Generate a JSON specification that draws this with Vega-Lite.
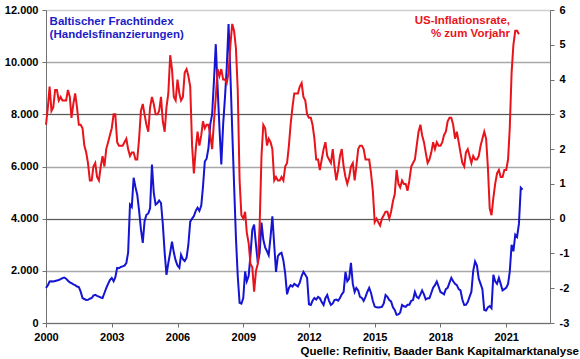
{
"$schema": "https://vega.github.io/schema/vega-lite/v6.json",
"width": 504, "height": 313,
"autosize": "none",
"padding": {"left": 46, "top": 10, "right": 30, "bottom": 36},
"config": {"view": {"stroke": null}, "font": "Liberation Sans",
  "axis": {"labelFont": "Liberation Sans", "labelFontSize": 11, "labelFontWeight": "bold", "labelColor": "#000000", "domainColor": "#707070", "tickColor": "#707070", "tickSize": 4, "labelPadding": 4, "title": null, "labelOverlap": false, "labelBound": false, "labelFlush": false}},
"title": {"text": "Quelle: Refinitiv, Baader Bank Kapitalmarktanalyse", "orient": "bottom", "anchor": "end", "frame": "group", "dx": 29, "offset": 4, "fontSize": 11.5, "fontWeight": "bold", "font": "Liberation Sans", "color": "#000000"},
"datasets": {
"bdi": [
{"d":"2000-01","v":1340},{"d":"2000-02","v":1450},{"d":"2000-03","v":1590},{"d":"2000-04","v":1600},{"d":"2000-05","v":1590},{"d":"2000-06","v":1610},{"d":"2000-07","v":1630},{"d":"2000-08","v":1650},{"d":"2000-09","v":1680},{"d":"2000-10","v":1720},{"d":"2000-11","v":1745},{"d":"2000-12","v":1700},
{"d":"2001-01","v":1620},{"d":"2001-02","v":1560},{"d":"2001-03","v":1525},{"d":"2001-04","v":1480},{"d":"2001-05","v":1450},{"d":"2001-06","v":1400},{"d":"2001-07","v":1380},{"d":"2001-08","v":1200},{"d":"2001-09","v":960},{"d":"2001-10","v":920},{"d":"2001-11","v":885},{"d":"2001-12","v":890},
{"d":"2002-01","v":930},{"d":"2002-02","v":960},{"d":"2002-03","v":1050},{"d":"2002-04","v":1080},{"d":"2002-05","v":1040},{"d":"2002-06","v":1010},{"d":"2002-07","v":980},{"d":"2002-08","v":960},{"d":"2002-09","v":1150},{"d":"2002-10","v":1335},{"d":"2002-11","v":1500},{"d":"2002-12","v":1650},
{"d":"2003-01","v":1730},{"d":"2003-02","v":1600},{"d":"2003-03","v":1750},{"d":"2003-04","v":2115},{"d":"2003-05","v":2100},{"d":"2003-06","v":2150},{"d":"2003-07","v":2170},{"d":"2003-08","v":2200},{"d":"2003-09","v":2300},{"d":"2003-10","v":2700},{"d":"2003-11","v":4540},{"d":"2003-12","v":4450},
{"d":"2004-01","v":5570},{"d":"2004-02","v":5200},{"d":"2004-03","v":4920},{"d":"2004-04","v":4300},{"d":"2004-05","v":3600},{"d":"2004-06","v":3075},{"d":"2004-07","v":3900},{"d":"2004-08","v":4150},{"d":"2004-09","v":4200},{"d":"2004-10","v":4400},{"d":"2004-11","v":6075},{"d":"2004-12","v":5000},
{"d":"2005-01","v":4540},{"d":"2005-02","v":4600},{"d":"2005-03","v":4700},{"d":"2005-04","v":4600},{"d":"2005-05","v":3800},{"d":"2005-06","v":2700},{"d":"2005-07","v":1845},{"d":"2005-08","v":2300},{"d":"2005-09","v":2700},{"d":"2005-10","v":3115},{"d":"2005-11","v":2700},{"d":"2005-12","v":2400},
{"d":"2006-01","v":2200},{"d":"2006-02","v":2115},{"d":"2006-03","v":2615},{"d":"2006-04","v":2450},{"d":"2006-05","v":2375},{"d":"2006-06","v":2500},{"d":"2006-07","v":3000},{"d":"2006-08","v":3885},{"d":"2006-09","v":4000},{"d":"2006-10","v":4100},{"d":"2006-11","v":4300},{"d":"2006-12","v":4420},
{"d":"2007-01","v":4300},{"d":"2007-02","v":4500},{"d":"2007-03","v":5200},{"d":"2007-04","v":6190},{"d":"2007-05","v":6300},{"d":"2007-06","v":6700},{"d":"2007-07","v":7615},{"d":"2007-08","v":8000},{"d":"2007-09","v":9300},{"d":"2007-10","v":10690},{"d":"2007-11","v":9000},{"d":"2007-12","v":7500},
{"d":"2008-01","v":6075},{"d":"2008-02","v":7615},{"d":"2008-03","v":8600},{"d":"2008-04","v":9800},{"d":"2008-05","v":11460},{"d":"2008-06","v":9500},{"d":"2008-07","v":7400},{"d":"2008-08","v":5300},{"d":"2008-09","v":3270},{"d":"2008-10","v":1800},{"d":"2008-11","v":770},{"d":"2008-12","v":740},
{"d":"2009-01","v":960},{"d":"2009-02","v":1975},{"d":"2009-03","v":1600},{"d":"2009-04","v":1800},{"d":"2009-05","v":2600},{"d":"2009-06","v":3575},{"d":"2009-07","v":3770},{"d":"2009-08","v":3000},{"d":"2009-09","v":2300},{"d":"2009-10","v":2700},{"d":"2009-11","v":3850},{"d":"2009-12","v":3200},
{"d":"2010-01","v":2900},{"d":"2010-02","v":2750},{"d":"2010-03","v":2600},{"d":"2010-04","v":3300},{"d":"2010-05","v":4090},{"d":"2010-06","v":3000},{"d":"2010-07","v":1960},{"d":"2010-08","v":2560},{"d":"2010-09","v":2650},{"d":"2010-10","v":2690},{"d":"2010-11","v":2400},{"d":"2010-12","v":1900},
{"d":"2011-01","v":1100},{"d":"2011-02","v":1345},{"d":"2011-03","v":1450},{"d":"2011-04","v":1400},{"d":"2011-05","v":1500},{"d":"2011-06","v":1450},{"d":"2011-07","v":1400},{"d":"2011-08","v":1550},{"d":"2011-09","v":1800},{"d":"2011-10","v":1960},{"d":"2011-11","v":1850},{"d":"2011-12","v":1730},
{"d":"2012-01","v":720},{"d":"2012-02","v":690},{"d":"2012-03","v":850},{"d":"2012-04","v":960},{"d":"2012-05","v":900},{"d":"2012-06","v":1000},{"d":"2012-07","v":950},{"d":"2012-08","v":800},{"d":"2012-09","v":690},{"d":"2012-10","v":950},{"d":"2012-11","v":1075},{"d":"2012-12","v":850},
{"d":"2013-01","v":690},{"d":"2013-02","v":750},{"d":"2013-03","v":880},{"d":"2013-04","v":900},{"d":"2013-05","v":860},{"d":"2013-06","v":960},{"d":"2013-07","v":1100},{"d":"2013-08","v":1190},{"d":"2013-09","v":1960},{"d":"2013-10","v":1600},{"d":"2013-11","v":1700},{"d":"2013-12","v":2305},
{"d":"2014-01","v":1500},{"d":"2014-02","v":1190},{"d":"2014-03","v":1345},{"d":"2014-04","v":1250},{"d":"2014-05","v":1000},{"d":"2014-06","v":960},{"d":"2014-07","v":850},{"d":"2014-08","v":1000},{"d":"2014-09","v":1200},{"d":"2014-10","v":1345},{"d":"2014-11","v":1150},{"d":"2014-12","v":850},
{"d":"2015-01","v":630},{"d":"2015-02","v":600},{"d":"2015-03","v":590},{"d":"2015-04","v":600},{"d":"2015-05","v":620},{"d":"2015-06","v":750},{"d":"2015-07","v":1075},{"d":"2015-08","v":1000},{"d":"2015-09","v":880},{"d":"2015-10","v":830},{"d":"2015-11","v":600},{"d":"2015-12","v":500},
{"d":"2016-01","v":310},{"d":"2016-02","v":330},{"d":"2016-03","v":400},{"d":"2016-04","v":690},{"d":"2016-05","v":640},{"d":"2016-06","v":620},{"d":"2016-07","v":700},{"d":"2016-08","v":700},{"d":"2016-09","v":850},{"d":"2016-10","v":880},{"d":"2016-11","v":1190},{"d":"2016-12","v":1000},
{"d":"2017-01","v":950},{"d":"2017-02","v":1100},{"d":"2017-03","v":1250},{"d":"2017-04","v":1100},{"d":"2017-05","v":900},{"d":"2017-06","v":950},{"d":"2017-07","v":950},{"d":"2017-08","v":1150},{"d":"2017-09","v":1350},{"d":"2017-10","v":1450},{"d":"2017-11","v":1590},{"d":"2017-12","v":1400},
{"d":"2018-01","v":1190},{"d":"2018-02","v":1150},{"d":"2018-03","v":1100},{"d":"2018-04","v":1300},{"d":"2018-05","v":1350},{"d":"2018-06","v":1550},{"d":"2018-07","v":1730},{"d":"2018-08","v":1600},{"d":"2018-09","v":1500},{"d":"2018-10","v":1450},{"d":"2018-11","v":1300},{"d":"2018-12","v":1250},
{"d":"2019-01","v":900},{"d":"2019-02","v":690},{"d":"2019-03","v":700},{"d":"2019-04","v":800},{"d":"2019-05","v":1000},{"d":"2019-06","v":1200},{"d":"2019-07","v":2000},{"d":"2019-08","v":2360},{"d":"2019-09","v":2200},{"d":"2019-10","v":1700},{"d":"2019-11","v":1500},{"d":"2019-12","v":1300},
{"d":"2020-01","v":500},{"d":"2020-02","v":480},{"d":"2020-03","v":600},{"d":"2020-04","v":650},{"d":"2020-05","v":570},{"d":"2020-06","v":1850},{"d":"2020-07","v":1600},{"d":"2020-08","v":1500},{"d":"2020-09","v":1730},{"d":"2020-10","v":1500},{"d":"2020-11","v":1250},{"d":"2020-12","v":1300},
{"d":"2021-01","v":1350},{"d":"2021-02","v":1500},{"d":"2021-03","v":1960},{"d":"2021-04","v":3000},{"d":"2021-05","v":2750},{"d":"2021-06","v":3385},{"d":"2021-07","v":3300},{"d":"2021-08","v":3800},{"d":"2021-09","v":5190},{"d":"2021-10","v":5115}
],
"cpi": [
{"d":"2000-01","v":2.7},{"d":"2000-02","v":3.2},{"d":"2000-03","v":3.8},{"d":"2000-04","v":3.1},{"d":"2000-05","v":3.2},{"d":"2000-06","v":3.7},{"d":"2000-07","v":3.7},{"d":"2000-08","v":3.4},{"d":"2000-09","v":3.5},{"d":"2000-10","v":3.4},{"d":"2000-11","v":3.4},{"d":"2000-12","v":3.4},
{"d":"2001-01","v":3.7},{"d":"2001-02","v":3.5},{"d":"2001-03","v":2.9},{"d":"2001-04","v":3.3},{"d":"2001-05","v":3.6},{"d":"2001-06","v":3.2},{"d":"2001-07","v":2.7},{"d":"2001-08","v":2.7},{"d":"2001-09","v":2.6},{"d":"2001-10","v":2.1},{"d":"2001-11","v":1.9},{"d":"2001-12","v":1.6},
{"d":"2002-01","v":1.1},{"d":"2002-02","v":1.1},{"d":"2002-03","v":1.5},{"d":"2002-04","v":1.6},{"d":"2002-05","v":1.2},{"d":"2002-06","v":1.1},{"d":"2002-07","v":1.5},{"d":"2002-08","v":1.8},{"d":"2002-09","v":1.5},{"d":"2002-10","v":2.0},{"d":"2002-11","v":2.2},{"d":"2002-12","v":2.4},
{"d":"2003-01","v":2.6},{"d":"2003-02","v":3.0},{"d":"2003-03","v":3.0},{"d":"2003-04","v":2.2},{"d":"2003-05","v":2.1},{"d":"2003-06","v":2.1},{"d":"2003-07","v":2.1},{"d":"2003-08","v":2.2},{"d":"2003-09","v":2.3},{"d":"2003-10","v":2.0},{"d":"2003-11","v":1.8},{"d":"2003-12","v":1.9},
{"d":"2004-01","v":1.9},{"d":"2004-02","v":1.7},{"d":"2004-03","v":1.7},{"d":"2004-04","v":2.3},{"d":"2004-05","v":3.1},{"d":"2004-06","v":3.3},{"d":"2004-07","v":3.0},{"d":"2004-08","v":2.7},{"d":"2004-09","v":2.5},{"d":"2004-10","v":3.2},{"d":"2004-11","v":3.5},{"d":"2004-12","v":3.3},
{"d":"2005-01","v":3.0},{"d":"2005-02","v":3.0},{"d":"2005-03","v":3.1},{"d":"2005-04","v":3.5},{"d":"2005-05","v":2.8},{"d":"2005-06","v":2.5},{"d":"2005-07","v":3.2},{"d":"2005-08","v":3.6},{"d":"2005-09","v":4.7},{"d":"2005-10","v":4.3},{"d":"2005-11","v":3.5},{"d":"2005-12","v":3.4},
{"d":"2006-01","v":4.0},{"d":"2006-02","v":3.6},{"d":"2006-03","v":3.4},{"d":"2006-04","v":3.5},{"d":"2006-05","v":4.2},{"d":"2006-06","v":4.3},{"d":"2006-07","v":4.1},{"d":"2006-08","v":3.8},{"d":"2006-09","v":2.1},{"d":"2006-10","v":1.3},{"d":"2006-11","v":2.0},{"d":"2006-12","v":2.5},
{"d":"2007-01","v":2.1},{"d":"2007-02","v":2.4},{"d":"2007-03","v":2.8},{"d":"2007-04","v":2.6},{"d":"2007-05","v":2.7},{"d":"2007-06","v":2.7},{"d":"2007-07","v":2.4},{"d":"2007-08","v":2.0},{"d":"2007-09","v":2.8},{"d":"2007-10","v":3.5},{"d":"2007-11","v":4.3},{"d":"2007-12","v":4.1},
{"d":"2008-01","v":4.3},{"d":"2008-02","v":4.0},{"d":"2008-03","v":4.0},{"d":"2008-04","v":3.9},{"d":"2008-05","v":4.2},{"d":"2008-06","v":5.0},{"d":"2008-07","v":5.6},{"d":"2008-08","v":5.4},{"d":"2008-09","v":4.9},{"d":"2008-10","v":3.7},{"d":"2008-11","v":1.1},{"d":"2008-12","v":0.1},
{"d":"2009-01","v":0.0},{"d":"2009-02","v":0.2},{"d":"2009-03","v":-0.4},{"d":"2009-04","v":-0.7},{"d":"2009-05","v":-1.3},{"d":"2009-06","v":-1.4},{"d":"2009-07","v":-2.1},{"d":"2009-08","v":-1.5},{"d":"2009-09","v":-1.3},{"d":"2009-10","v":-0.2},{"d":"2009-11","v":1.8},{"d":"2009-12","v":2.7},
{"d":"2010-01","v":2.6},{"d":"2010-02","v":2.1},{"d":"2010-03","v":2.3},{"d":"2010-04","v":2.2},{"d":"2010-05","v":2.0},{"d":"2010-06","v":1.1},{"d":"2010-07","v":1.2},{"d":"2010-08","v":1.1},{"d":"2010-09","v":1.1},{"d":"2010-10","v":1.2},{"d":"2010-11","v":1.1},{"d":"2010-12","v":1.5},
{"d":"2011-01","v":1.6},{"d":"2011-02","v":2.1},{"d":"2011-03","v":2.7},{"d":"2011-04","v":3.2},{"d":"2011-05","v":3.6},{"d":"2011-06","v":3.6},{"d":"2011-07","v":3.6},{"d":"2011-08","v":3.8},{"d":"2011-09","v":3.9},{"d":"2011-10","v":3.5},{"d":"2011-11","v":3.4},{"d":"2011-12","v":3.0},
{"d":"2012-01","v":2.9},{"d":"2012-02","v":2.9},{"d":"2012-03","v":2.7},{"d":"2012-04","v":2.3},{"d":"2012-05","v":1.7},{"d":"2012-06","v":1.7},{"d":"2012-07","v":1.4},{"d":"2012-08","v":1.7},{"d":"2012-09","v":2.0},{"d":"2012-10","v":2.2},{"d":"2012-11","v":1.8},{"d":"2012-12","v":1.7},
{"d":"2013-01","v":1.6},{"d":"2013-02","v":2.0},{"d":"2013-03","v":1.5},{"d":"2013-04","v":1.1},{"d":"2013-05","v":1.4},{"d":"2013-06","v":1.8},{"d":"2013-07","v":2.0},{"d":"2013-08","v":1.5},{"d":"2013-09","v":1.2},{"d":"2013-10","v":1.0},{"d":"2013-11","v":1.2},{"d":"2013-12","v":1.5},
{"d":"2014-01","v":1.6},{"d":"2014-02","v":1.1},{"d":"2014-03","v":1.5},{"d":"2014-04","v":2.0},{"d":"2014-05","v":2.1},{"d":"2014-06","v":2.1},{"d":"2014-07","v":2.0},{"d":"2014-08","v":1.7},{"d":"2014-09","v":1.7},{"d":"2014-10","v":1.7},{"d":"2014-11","v":1.3},{"d":"2014-12","v":0.8},
{"d":"2015-01","v":-0.1},{"d":"2015-02","v":0.0},{"d":"2015-03","v":-0.1},{"d":"2015-04","v":-0.2},{"d":"2015-05","v":0.0},{"d":"2015-06","v":0.1},{"d":"2015-07","v":0.2},{"d":"2015-08","v":0.2},{"d":"2015-09","v":0.0},{"d":"2015-10","v":0.2},{"d":"2015-11","v":0.5},{"d":"2015-12","v":0.7},
{"d":"2016-01","v":1.4},{"d":"2016-02","v":1.0},{"d":"2016-03","v":0.9},{"d":"2016-04","v":1.1},{"d":"2016-05","v":1.0},{"d":"2016-06","v":1.0},{"d":"2016-07","v":0.8},{"d":"2016-08","v":1.1},{"d":"2016-09","v":1.5},{"d":"2016-10","v":1.6},{"d":"2016-11","v":1.7},{"d":"2016-12","v":2.1},
{"d":"2017-01","v":2.5},{"d":"2017-02","v":2.7},{"d":"2017-03","v":2.4},{"d":"2017-04","v":2.2},{"d":"2017-05","v":1.9},{"d":"2017-06","v":1.6},{"d":"2017-07","v":1.7},{"d":"2017-08","v":1.9},{"d":"2017-09","v":2.2},{"d":"2017-10","v":2.0},{"d":"2017-11","v":2.2},{"d":"2017-12","v":2.1},
{"d":"2018-01","v":2.1},{"d":"2018-02","v":2.2},{"d":"2018-03","v":2.4},{"d":"2018-04","v":2.5},{"d":"2018-05","v":2.8},{"d":"2018-06","v":2.9},{"d":"2018-07","v":2.9},{"d":"2018-08","v":2.7},{"d":"2018-09","v":2.3},{"d":"2018-10","v":2.5},{"d":"2018-11","v":2.2},{"d":"2018-12","v":1.9},
{"d":"2019-01","v":1.6},{"d":"2019-02","v":1.5},{"d":"2019-03","v":1.9},{"d":"2019-04","v":2.0},{"d":"2019-05","v":1.8},{"d":"2019-06","v":1.6},{"d":"2019-07","v":1.8},{"d":"2019-08","v":1.7},{"d":"2019-09","v":1.7},{"d":"2019-10","v":1.8},{"d":"2019-11","v":2.1},{"d":"2019-12","v":2.3},
{"d":"2020-01","v":2.5},{"d":"2020-02","v":2.3},{"d":"2020-03","v":1.5},{"d":"2020-04","v":0.3},{"d":"2020-05","v":0.1},{"d":"2020-06","v":0.6},{"d":"2020-07","v":1.0},{"d":"2020-08","v":1.3},{"d":"2020-09","v":1.4},{"d":"2020-10","v":1.2},{"d":"2020-11","v":1.2},{"d":"2020-12","v":1.4},
{"d":"2021-01","v":1.4},{"d":"2021-02","v":1.7},{"d":"2021-03","v":2.6},{"d":"2021-04","v":4.2},{"d":"2021-05","v":5.0},{"d":"2021-06","v":5.4},{"d":"2021-07","v":5.4},{"d":"2021-08","v":5.3}
]
},
"encoding": {
  "x": {"field": "d", "type": "temporal",
    "scale": {"type": "utc", "domain": [{"year": 2000, "month": 1, "date": 1, "utc": true}, {"year": 2023, "month": 1, "date": 1, "utc": true}], "nice": false},
    "axis": {"orient": "bottom", "format": "%Y", "grid": false, "labelAlign": "center",
      "values": [{"year": 2000, "utc": true}, {"year": 2003, "utc": true}, {"year": 2006, "utc": true}, {"year": 2009, "utc": true}, {"year": 2012, "utc": true}, {"year": 2015, "utc": true}, {"year": 2018, "utc": true}, {"year": 2021, "utc": true}]}}
},
"layer": [
  {"layer": [
    {"data": {"name": "bdi"},
     "mark": {"type": "line", "color": "#1414d2", "strokeWidth": 2},
     "encoding": {"y": {"field": "v", "type": "quantitative",
        "scale": {"domain": [0, 12000], "nice": false, "zero": false},
        "axis": {"orient": "left", "values": [0, 2000, 4000, 6000, 8000, 10000, 12000], "labelOverlap": false,
          "labelExpr": "replace(format(datum.value, ','), ',', '.')",
          "grid": true, "gridWidth": 1.5,
          "gridColor": {"condition": {"test": "datum.value == 12000", "value": "#cfcfcf"}, "value": "#a8a8a8"}}}}},
    {"data": {"values": [{"d": "2000-03-01", "v": 11444, "t": "Baltischer Frachtindex\n(Handelsfinanzierungen)"}]},
     "mark": {"type": "text", "align": "left", "baseline": "alphabetic", "lineBreak": "\n", "lineHeight": 13, "font": "Liberation Sans", "fontSize": 11.5, "fontWeight": "bold", "color": "#1c1cc8"},
     "encoding": {"y": {"field": "v", "type": "quantitative"}, "text": {"field": "t"}}}
  ]},
  {"layer": [
    {"data": {"name": "cpi"},
     "mark": {"type": "line", "color": "#e8141b", "strokeWidth": 2},
     "encoding": {"y": {"field": "v", "type": "quantitative",
        "scale": {"domain": [-3, 6], "nice": false, "zero": false},
        "axis": {"orient": "right", "values": [-3, -2, -1, 0, 1, 2, 3, 4, 5, 6], "tickCount": 10, "labelOverlap": false,
          "labelExpr": "datum.value + ''", "labelPadding": 5,
          "grid": true, "gridColor": "#5a5a5a", "gridWidth": 1,
          "gridOpacity": {"condition": {"test": "datum.value == 0 || datum.value == 3", "value": 1}, "value": 0}}}}},
    {"data": {"values": [{"d": "2021-03-05", "v": 5.61, "t": "US-Inflationsrate,\n% zum Vorjahr"}]},
     "mark": {"type": "text", "align": "right", "baseline": "alphabetic", "lineBreak": "\n", "lineHeight": 13, "font": "Liberation Sans", "fontSize": 11.5, "fontWeight": "bold", "color": "#e8141b"},
     "encoding": {"y": {"field": "v", "type": "quantitative"}, "text": {"field": "t"}}}
  ]}
],
"resolve": {"scale": {"y": "independent"}, "axis": {"y": "independent"}}
}
